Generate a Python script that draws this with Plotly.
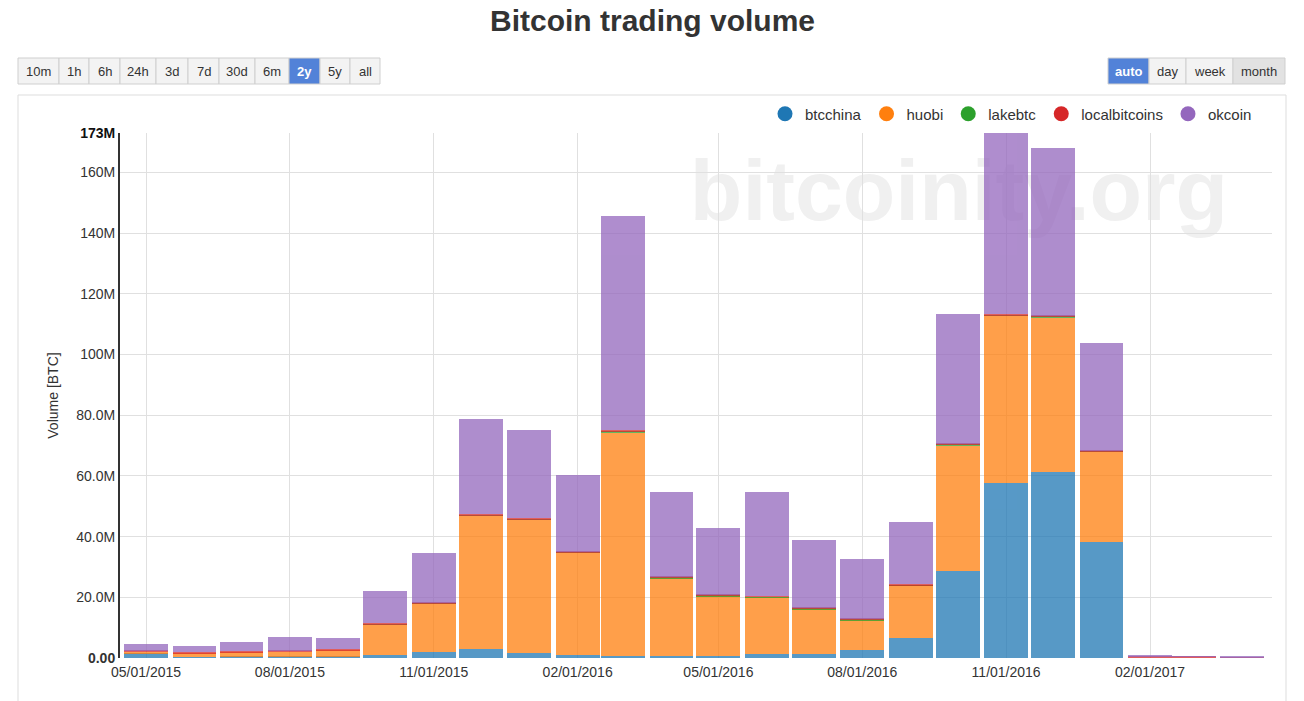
import plotly.graph_objects as go

# ---------------- data (monthly volume, millions of BTC) ----------------
months = ["2015-05-01", "2015-06-01", "2015-07-01", "2015-08-01", "2015-09-01", "2015-10-01",
          "2015-11-01", "2015-12-01", "2016-01-01", "2016-02-01", "2016-03-01", "2016-04-01",
          "2016-05-01", "2016-06-01", "2016-07-01", "2016-08-01", "2016-09-01", "2016-10-01",
          "2016-11-01", "2016-12-01", "2017-01-01", "2017-02-01", "2017-03-01", "2017-04-01"]
btcchina_m = [1.55, 0.3, 0.4, 0.4, 0.4, 1.0, 1.9, 3.0, 1.5, 1.0, 0.8, 0.6,
              0.6, 1.3, 1.3, 2.6, 6.7, 28.8, 57.7, 61.4, 38.3, 0.0, 0.0, 0.0]
huobi_m = [0.55, 1.3, 1.5, 1.6, 2.2, 10.0, 15.9, 43.8, 44.1, 33.6, 73.5, 25.7,
           19.8, 18.7, 14.8, 9.9, 17.2, 41.2, 55.0, 50.7, 29.6, 0.0, 0.0, 0.0]
lakebtc_m = [0.0, 0.0, 0.0, 0.0, 0.0, 0.05, 0.1, 0.15, 0.15, 0.1, 0.4, 0.1,
             0.1, 0.1, 0.1, 0.1, 0.1, 0.3, 0.3, 0.3, 0.05, 0.0, 0.0, 0.0]
localbitcoins_m = [0.33, 0.33, 0.33, 0.33, 0.33, 0.35, 0.35, 0.35, 0.35, 0.3, 0.3, 0.3,
                   0.3, 0.3, 0.3, 0.3, 0.3, 0.3, 0.3, 0.3, 0.3, 0.4, 0.35, 0.3]
okcoin_m = [2.3, 1.9, 2.9, 4.5, 3.6, 10.8, 16.4, 31.3, 29.0, 25.3, 70.5, 28.0,
            22.0, 34.3, 22.4, 19.7, 20.4, 42.8, 59.7, 55.4, 35.6, 0.3, 0.2, 0.15]

series_names = ["btcchina", "huobi", "lakebtc", "localbitcoins", "okcoin"]
series_values = [btcchina_m, huobi_m, lakebtc_m, localbitcoins_m, okcoin_m]
series_colors = ["#1f77b4", "#ff7f0e", "#2ca02c", "#d62728", "#9467bd"]

y_tick_vals_m = [0, 20, 40, 60, 80, 100, 120, 140, 160]
y_tick_text = ["<b>0.00</b>", "20.0M", "40.0M", "60.0M", "80.0M", "100M", "120M", "140M", "160M"]
y_max_m = 173
y_max_text = "<b>173M</b>"

left_buttons = ["10m", "1h", "6h", "24h", "3d", "7d", "30d", "6m", "2y", "5y", "all"]
right_buttons = ["auto", "day", "week", "month"]

# ---------------- style / layout constants ----------------
FONT = "Liberation Sans, Arial, sans-serif"
TXT = "#333333"
GRID = "#e0e0e0"
W, H = 1304, 701
PL, PR, PT, PB = 120, 1272, 133, 658
M = 1e6
BAR_WIDTH_MS = 28 * 24 * 3600 * 1000


def px(x):
    return (x - PL) / (PR - PL)


def py(y):
    return (PB - y) / (PB - PT)


fig = go.Figure()

for name, vals, col in zip(series_names, series_values, series_colors):
    fig.add_trace(go.Bar(
        x=months, y=[v * M for v in vals], name=name,
        marker=dict(color=col, line=dict(width=0)), opacity=0.75,
        width=BAR_WIDTH_MS, showlegend=False, legendgroup=name,
    ))
# legend entries with round symbols
for name, col in zip(series_names, series_colors):
    fig.add_trace(go.Scatter(
        x=[None], y=[None], mode="markers", name=name, legendgroup=name,
        marker=dict(color=col, size=15, symbol="circle"),
    ))

# the y2 axis carries only the bold top label
fig.add_trace(go.Scatter(x=[None], y=[None], yaxis="y2", showlegend=False, hoverinfo="skip"))

shapes = []
annotations = []

# chart panel border
shapes.append(dict(type="rect", xref="paper", yref="paper",
                   x0=px(18), x1=px(1286), y0=py(712), y1=py(95),
                   line=dict(color="#dddddd", width=1), fillcolor="rgba(0,0,0,0)", layer="below"))

# watermark
shapes.append(dict(type="rect", xref="paper", yref="paper",
                   x0=px(678), x1=px(1240), y0=py(232), y1=py(132),
                   line=dict(width=0), fillcolor="rgba(0,0,0,0)", layer="below",
                   label=dict(text="bitcoinity.org", textposition="middle center",
                              font=dict(size=86, color="#f0f0f0", family=FONT, weight="bold"))))

# button groups
left_edges = [18, 59, 89, 120, 156, 188, 219, 255, 289, 320, 350, 380]
right_edges = [1108, 1149, 1186, 1233, 1285]
BTN_T, BTN_B = 58, 84


def add_buttons(labels, edges, active, pressed=None):
    for i, lab in enumerate(labels):
        x0, x1 = edges[i], edges[i + 1]
        if lab == active:
            fill, fc = "#5282d8", "white"
            txt = "<b>%s</b>" % lab
        elif lab == pressed:
            fill, fc = "#e2e2e2", TXT
            txt = lab
        else:
            fill, fc = "#f3f3f3", TXT
            txt = lab
        shapes.append(dict(type="rect", xref="paper", yref="paper",
                           x0=px(x0), x1=px(x1), y0=py(BTN_B), y1=py(BTN_T),
                           line=dict(color="#cfcfcf", width=1), fillcolor=fill, layer="above"))
        annotations.append(dict(text=txt, xref="paper", yref="paper",
                                x=px((x0 + x1) / 2), y=py((BTN_T + BTN_B) / 2),
                                xanchor="center", yanchor="middle", showarrow=False,
                                font=dict(size=13, color=fc, family=FONT)))


add_buttons(left_buttons, left_edges, "2y")
add_buttons(right_buttons, right_edges, "auto", pressed="month")

# title
annotations.append(dict(text="<b>Bitcoin trading volume</b>", xref="paper", yref="paper",
                        x=px(652), y=py(21), xanchor="center", yanchor="middle", showarrow=False,
                        font=dict(size=30, color=TXT, family=FONT)))

fig.update_layout(
    width=W, height=H, autosize=False,
    margin=dict(l=PL, r=W - PR, t=PT, b=H - PB, pad=0),
    paper_bgcolor="white", plot_bgcolor="rgba(0,0,0,0)",
    barmode="stack",
    font=dict(family=FONT, color=TXT, size=14),
    showlegend=True,
    legend=dict(orientation="h", x=px(1257), xanchor="right", y=py(114), yanchor="middle",
                font=dict(size=15, color=TXT, family=FONT), bgcolor="rgba(0,0,0,0)",
                itemclick=False, itemdoubleclick=False),
    xaxis=dict(type="date", range=["2015-04-14 09:00", "2017-04-20 00:00"],
               tick0="2015-05-01", dtick="M3", tickformat="%m/%d/%Y",
               showgrid=True, gridcolor=GRID, gridwidth=1,
               showline=False, zeroline=False, ticks="", ticklabelstandoff=4,
               tickfont=dict(size=14, color=TXT, family=FONT)),
    yaxis=dict(range=[0, y_max_m * M], tickmode="array",
               tickvals=[v * M for v in y_tick_vals_m], ticktext=y_tick_text,
               showgrid=True, gridcolor=GRID, gridwidth=1,
               zeroline=True, zerolinecolor="white", zerolinewidth=1,
               showline=True, linecolor="#333333", linewidth=2,
               ticks="", tickfont=dict(size=14, color=TXT, family=FONT),
               title=dict(text="Volume [BTC]", standoff=14,
                          font=dict(size=14, color=TXT, family=FONT))),
    yaxis2=dict(overlaying="y", side="left", range=[0, y_max_m * M], tickmode="array",
                tickvals=[y_max_m * M], ticktext=[y_max_text], showgrid=False,
                zeroline=False, showline=True, linecolor="#333333", linewidth=2, ticks="",
                tickfont=dict(size=14, color="#111111", family=FONT)),
    shapes=shapes,
    annotations=annotations,
)

fig.write_html("out.html")
